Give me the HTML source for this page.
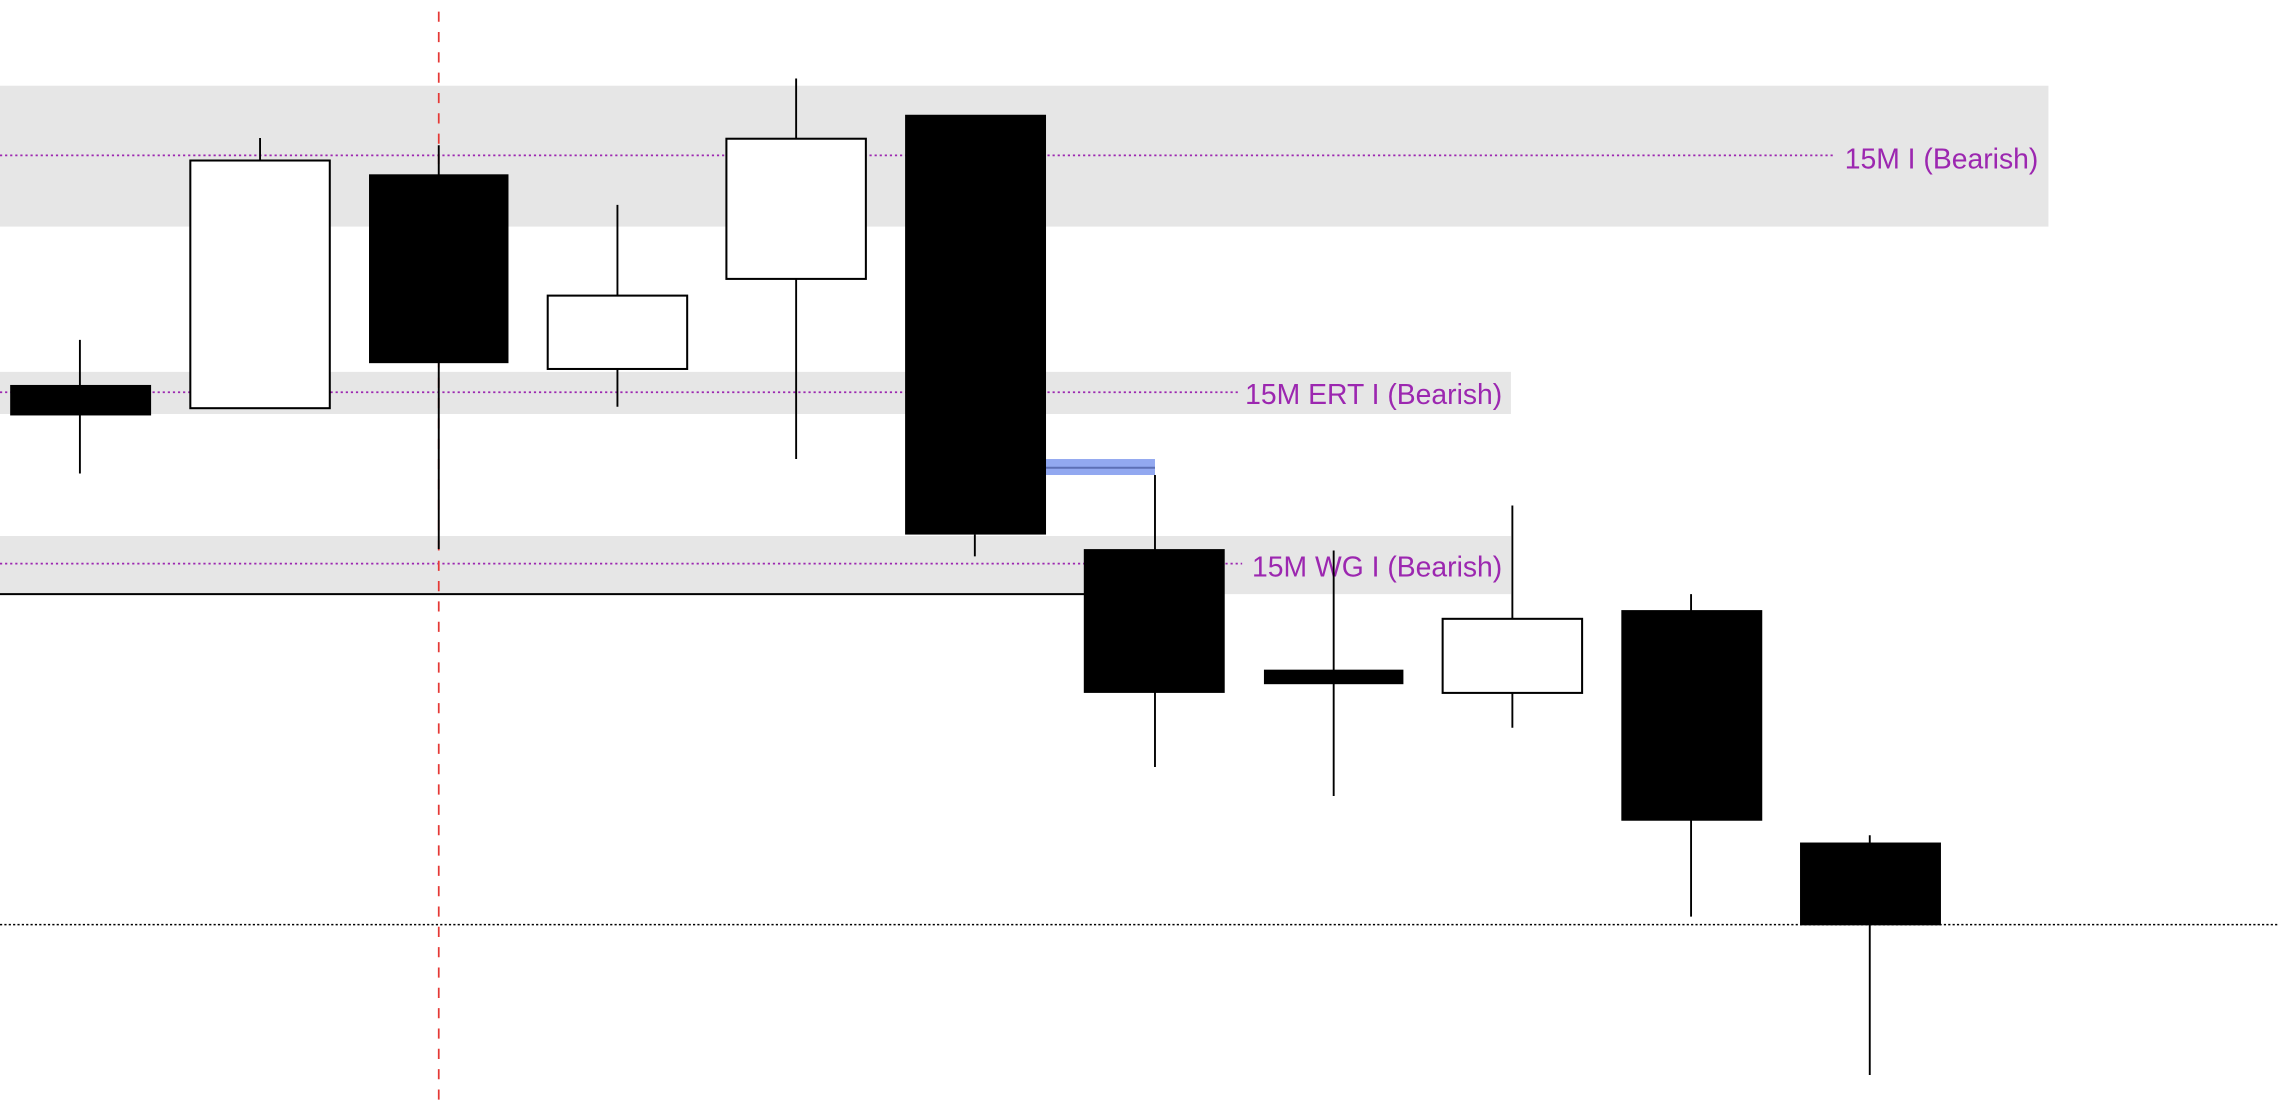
<!DOCTYPE html>
<html><head><meta charset="utf-8"><style>
html,body{margin:0;padding:0;background:#fff;}
svg{display:block;}
text{font-family:"Liberation Sans",sans-serif;fill:#9c27b0;font-size:19.5px;}
</style></head><body>
<svg width="2278" height="1104" viewBox="0 0 1568 760" preserveAspectRatio="none" xmlns="http://www.w3.org/2000/svg">
<rect x="0" y="59" width="1410" height="97" fill="#e6e6e6"/>
<rect x="0" y="256" width="1040" height="29" fill="#e6e6e6"/>
<rect x="0" y="369" width="1040" height="40" fill="#e6e6e6"/>
<line x1="0" y1="107" x2="1262" y2="107" stroke="#9c27b0" stroke-width="1.2" stroke-dasharray="1.5,2"/>
<line x1="0" y1="270" x2="852" y2="270" stroke="#9c27b0" stroke-width="1.2" stroke-dasharray="1.5,2"/>
<line x1="0" y1="388" x2="855" y2="388" stroke="#9c27b0" stroke-width="1.2" stroke-dasharray="1.5,2"/>
<text x="1403" y="116" text-anchor="end">15M I (Bearish)</text>
<text x="1034" y="278" text-anchor="end">15M ERT I (Bearish)</text>
<text x="1034" y="397" text-anchor="end">15M WG I (Bearish)</text>
<line x1="0" y1="409" x2="748" y2="409" stroke="#000" stroke-width="1.4"/>
<line x1="0" y1="636.5" x2="1568" y2="636.5" stroke="#000" stroke-width="1" stroke-dasharray="1.5,1.5"/>
<line x1="302" y1="8" x2="302" y2="757" stroke="#e53935" stroke-width="1.2" stroke-dasharray="7,7"/>
<rect x="720" y="316" width="75" height="11" fill="#92a8f0"/>
<line x1="720" y1="322" x2="795" y2="322" stroke="#5c6fb5" stroke-width="1.4"/>
<g stroke="#000" stroke-width="1.3">
<line x1="55" y1="234" x2="55" y2="326"/>
<line x1="179" y1="95" x2="179" y2="110"/>
<line x1="302" y1="100" x2="302" y2="378"/>
<line x1="425" y1="141" x2="425" y2="280"/>
<line x1="548" y1="54" x2="548" y2="316"/>
<line x1="671" y1="368" x2="671" y2="383"/>
<line x1="795" y1="327" x2="795" y2="528"/>
<line x1="918" y1="379" x2="918" y2="548"/>
<line x1="1041" y1="348" x2="1041" y2="501"/>
<line x1="1164" y1="409" x2="1164" y2="631"/>
<line x1="1287" y1="575" x2="1287" y2="740"/>
</g>
<g fill="#000">
<rect x="7" y="265" width="97" height="21"/>
<rect x="254" y="120" width="96" height="130"/>
<rect x="623" y="79" width="97" height="289"/>
<rect x="746" y="378" width="97" height="99"/>
<rect x="870" y="461" width="96" height="10"/>
<rect x="1116" y="420" width="97" height="145"/>
<rect x="1239" y="580" width="97" height="57"/>
</g>
<g fill="#fff" stroke="#000" stroke-width="1.4">
<rect x="131" y="110.5" width="96" height="170.5"/>
<rect x="377" y="203.5" width="96" height="50.5"/>
<rect x="500" y="95.5" width="96" height="96.5"/>
<rect x="993" y="426" width="96" height="51"/>
</g>
</svg>
</body></html>
